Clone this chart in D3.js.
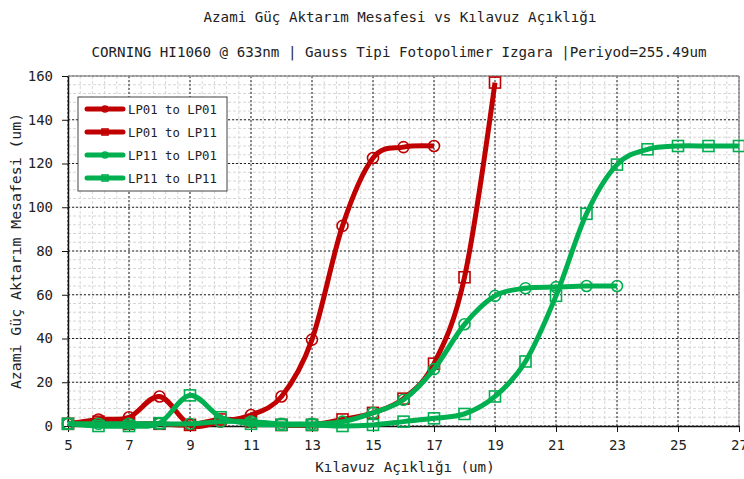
<!DOCTYPE html>
<html>
<head>
<meta charset="utf-8">
<script src="https://cdn.jsdelivr.net/npm/d3@7"></script>
<style>
  body { margin: 0; background: #fff; }
  text { font-family: "DejaVu Sans Mono", "Liberation Mono", monospace; fill: #222; }
</style>
</head>
<body>
<svg id="chart" width="744" height="479"></svg>
<script>
// chart values
const xTicks = [5, 7, 9, 11, 13, 15, 17, 19, 21, 23, 25, 27]
const yTicks = [0, 20, 40, 60, 80, 100, 120, 140, 160]

const gapLP01toLP01 = [5, 6, 7, 8, 9, 10, 11, 12, 13, 14, 15, 16, 17]
const lenLP01toLP01 = [1, 3, 4, 13.5, 0.5, 2, 5, 13.5, 39.5, 91.5, 122.5, 127.5, 128]

const gapLP01toLP11 = [5, 6, 7, 8, 9, 10, 11, 12, 13, 14, 15, 16, 17, 18, 19]
const lenLP01toLP11 = [1, 2, 1, 1, 0.5, 3, 2, 0.5, 0.5, 3, 6, 12.5, 28.5, 68, 157]

const gapLP11toLP01 = [5, 6, 7, 8, 9, 10, 11, 12, 13, 14, 15, 16, 17, 18, 19, 20, 21, 22, 23]
const lenLP11toLP01 = [1, 1, 1, 1, 1, 2, 2, 1, 1, 2, 6, 12, 26, 46.5, 59.5, 63, 63.5, 64, 64]

const gapLP11toLP11 = [5, 6, 7, 8, 9, 10, 11, 12, 13, 14, 15, 16, 17, 18, 19, 20, 21, 22, 23, 24, 25, 26, 27]
const lenLP11toLP11 = [1, 0, 0, 1.3, 14, 4, 1, 0.5, 0.5, 0, 0.5, 2, 3.5, 5.5, 13.5, 29.5, 59.5, 97, 119.5, 126.5, 128, 128, 128]

const seriesNames = ['LP01 to LP01', 'LP01 to LP11', 'LP11 to LP01', 'LP11 to LP11']
const seriesColors = ['#c00000', '#c00000', '#00b050', '#00b050']
const seriesMarkers = ['circle', 'square', 'circle', 'square']

const series = [
  {xs: gapLP01toLP01, ys: lenLP01toLP01},
  {xs: gapLP01toLP11, ys: lenLP01toLP11},
  {xs: gapLP11toLP01, ys: lenLP11toLP01},
  {xs: gapLP11toLP11, ys: lenLP11toLP11}
].map((s, i) => ({
  name: seriesNames[i],
  color: seriesColors[i],
  marker: seriesMarkers[i],
  points: s.xs.map((x, j) => ({x, y: s.ys[j]}))
}))

const svg = d3.select('#chart')
const plotLeft = 68, plotRight = 739, plotTop = 76, plotBottom = 426

const x = d3.scaleLinear().domain([5, 27]).range([plotLeft, plotRight])
const y = d3.scaleLinear().domain([0, 160]).range([plotBottom, plotTop])

// titles
svg.append('text')
  .attr('x', 400).attr('y', 22)
  .attr('text-anchor', 'middle')
  .style('font-size', '14.2px')
  .text('Azami Güç Aktarım Mesafesi vs Kılavuz Açıklığı')
svg.append('text')
  .attr('x', 399).attr('y', 57)
  .attr('text-anchor', 'middle')
  .style('font-size', '14.2px')
  .text('CORNING HI1060 @ 633nm | Gauss Tipi Fotopolimer Izgara |Periyod=255.49um')

// grid: minor first, then major
const grid = svg.append('g')
grid.selectAll('.vminor')
  .data(d3.range(5, 27.001, 0.4))
  .join('line')
  .attr('x1', d => x(d)).attr('x2', d => x(d))
  .attr('y1', plotTop).attr('y2', plotBottom)
  .attr('stroke', '#d6d6d6').attr('stroke-dasharray', '3,2')
grid.selectAll('.hminor')
  .data(d3.range(0, 160.001, 4))
  .join('line')
  .attr('x1', plotLeft).attr('x2', plotRight)
  .attr('y1', d => y(d)).attr('y2', d => y(d))
  .attr('stroke', '#d6d6d6').attr('stroke-dasharray', '3,2')
grid.selectAll('.vmajor')
  .data(xTicks)
  .join('line')
  .attr('x1', d => x(d)).attr('x2', d => x(d))
  .attr('y1', plotTop).attr('y2', plotBottom)
  .attr('stroke', '#222').attr('stroke-dasharray', '2,2')
grid.selectAll('.hmajor')
  .data(yTicks)
  .join('line')
  .attr('x1', plotLeft).attr('x2', plotRight)
  .attr('y1', d => y(d)).attr('y2', d => y(d))
  .attr('stroke', '#222').attr('stroke-dasharray', '2,2')

// frame
svg.append('line').attr('x1', plotLeft).attr('x2', plotRight).attr('y1', plotTop).attr('y2', plotTop)
  .attr('stroke', '#999').attr('stroke-width', 1.5)
svg.append('line').attr('x1', plotRight).attr('x2', plotRight).attr('y1', plotTop).attr('y2', plotBottom)
  .attr('stroke', '#999').attr('stroke-width', 1.5)

// axes
const xAxis = svg.append('g')
  .attr('transform', `translate(0,${plotBottom})`)
  .call(d3.axisBottom(x).tickValues(xTicks).tickSize(6).tickSizeOuter(0).tickPadding(8))
const yAxis = svg.append('g')
  .attr('transform', `translate(${plotLeft},0)`)
  .call(d3.axisLeft(y).tickValues(yTicks).tickSize(6).tickSizeOuter(0).tickPadding(9))
;[xAxis, yAxis].forEach(a => {
  a.select('.domain').attr('stroke', '#111').attr('stroke-width', 1.5)
  a.selectAll('.tick line').attr('stroke', '#111')
  a.selectAll('.tick text')
    .style('font-size', '14px')
    .style('font-family', '"DejaVu Sans Mono", monospace')
    .attr('fill', '#222')
})

svg.append('text')
  .attr('x', 405).attr('y', 472)
  .attr('text-anchor', 'middle')
  .style('font-size', '14.2px')
  .text('Kılavuz Açıklığı (um)')
svg.append('text')
  .attr('transform', 'translate(21,251) rotate(-90)')
  .attr('text-anchor', 'middle')
  .style('font-size', '14.8px')
  .text('Azami Güç Aktarım Mesafesi (um)')

// series
svg.append('clipPath').attr('id', 'plotclip')
  .append('rect').attr('x', plotLeft - 8).attr('y', plotTop - 8)
  .attr('width', plotRight - plotLeft + 16).attr('height', plotBottom - plotTop + 16)

const plot = svg.append('g').attr('clip-path', 'url(#plotclip)')
const line = d3.line()
  .x(d => x(d.x))
  .y(d => y(d.y))
  .curve(d3.curveCardinal.tension(0))

function drawMarker(sel, kind, size, color) {
  if (kind === 'circle') {
    sel.append('circle')
      .attr('r', size)
      .attr('fill', 'none')
      .attr('stroke', color)
      .attr('stroke-width', 1.6)
  } else {
    sel.append('rect')
      .attr('x', -size).attr('y', -size)
      .attr('width', size * 2).attr('height', size * 2)
      .attr('fill', 'none')
      .attr('stroke', color)
      .attr('stroke-width', 1.6)
  }
}

series.forEach(s => {
  const g = plot.append('g')
  g.append('path')
    .datum(s.points)
    .attr('d', line)
    .attr('fill', 'none')
    .attr('stroke', s.color)
    .attr('stroke-width', 5)
    .attr('stroke-linejoin', 'round')
  g.selectAll('.pt')
    .data(s.points)
    .join('g')
    .attr('transform', d => `translate(${x(d.x)},${y(d.y)})`)
    .each(function() {
      drawMarker(d3.select(this), s.marker, 5.5, s.color)
    })
})

// legend
const legend = svg.append('g').attr('transform', 'translate(78,97)')
legend.append('rect')
  .attr('width', 149).attr('height', 94)
  .attr('fill', '#fff')
  .attr('stroke', '#444')
const rows = legend.selectAll('.row')
  .data(series)
  .join('g')
  .attr('transform', (d, i) => `translate(0,${12 + i * 23})`)
rows.append('line')
  .attr('x1', 9).attr('x2', 45)
  .attr('stroke', d => d.color)
  .attr('stroke-width', 5)
  .attr('stroke-linecap', 'round')
rows.each(function(d) {
  const m = d3.select(this).append('g').attr('transform', 'translate(27,0)')
  drawMarker(m, d.marker, 3, d.color)
})
rows.append('text')
  .attr('x', 50).attr('y', 5)
  .style('font-size', '12.3px')
  .text(d => d.name)
</script>
</body>
</html>
